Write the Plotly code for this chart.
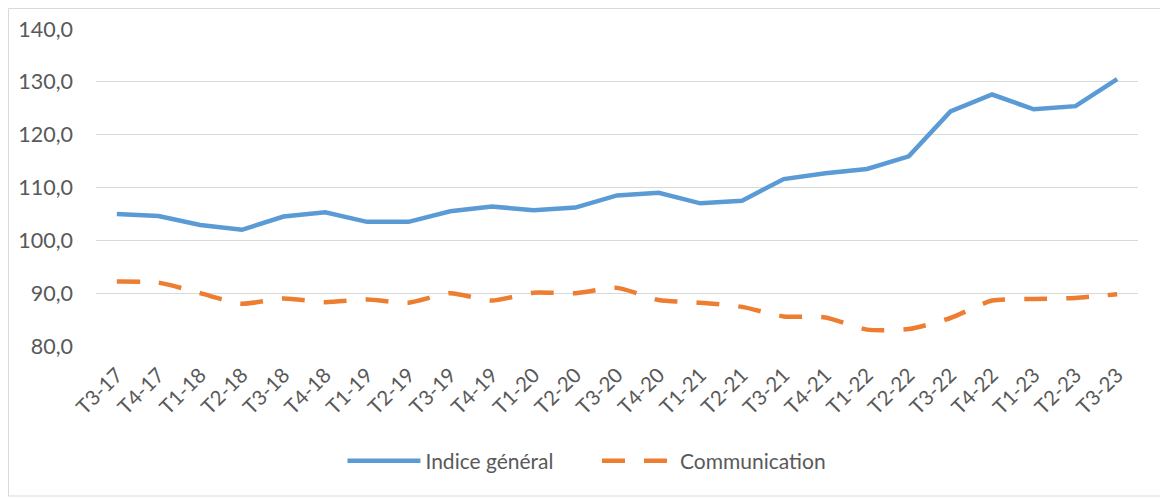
import plotly.graph_objects as go

QUARTERS = [
    "T3-17", "T4-17", "T1-18", "T2-18", "T3-18", "T4-18", "T1-19", "T2-19",
    "T3-19", "T4-19", "T1-20", "T2-20", "T3-20", "T4-20", "T1-21", "T2-21",
    "T3-21", "T4-21", "T1-22", "T2-22", "T3-22", "T4-22", "T1-23", "T2-23",
    "T3-23",
]
INDICE_GENERAL = [
    105.0, 104.6, 102.9, 102.0, 104.5, 105.3, 103.5, 103.5, 105.5, 106.4,
    105.7, 106.2, 108.5, 109.0, 107.0, 107.5, 111.6, 112.7, 113.5, 115.9,
    124.4, 127.6, 124.8, 125.4, 130.5,
]
COMMUNICATION = [
    92.2, 92.0, 90.0, 88.0, 89.0, 88.3, 88.8, 88.2, 90.0, 88.6,
    90.1, 90.0, 91.0, 88.7, 88.2, 87.4, 85.6, 85.4, 83.1, 83.2,
    85.3, 88.6, 88.9, 89.1, 89.8,
]

FONT = "Lato, Open Sans, sans-serif"
GREY = "#595959"
LEGEND_Y = -0.3628

fig = go.Figure()
fig.add_trace(go.Scatter(
    x=QUARTERS, y=INDICE_GENERAL, mode="lines", name="Indice général",
    line=dict(color="#5B9BD5", width=4.5), legend="legend",
))
fig.add_trace(go.Scatter(
    x=QUARTERS, y=COMMUNICATION, mode="lines", name="Communication",
    line=dict(color="#ED7D31", width=4.5, dash="23px,19px", shape="spline",
              smoothing=0.6),
    legend="legend2",
))

# light frame around the whole chart (Excel chart area border)
fig.add_shape(
    type="rect", xref="paper", yref="paper",
    x0=-0.0840, x1=1.0259, y0=-0.4732, y1=1.0647,
    line=dict(color="#D9D9D9", width=1), layer="below",
)

legend_style = dict(
    orientation="h", y=LEGEND_Y, yanchor="middle", xanchor="left",
    font=dict(size=21, color=GREY), itemwidth=73, borderwidth=0,
    bgcolor="rgba(0,0,0,0)",
)

fig.update_layout(
    width=1168, height=498,
    margin=dict(l=88, r=38, t=21, b=160, autoexpand=False),
    paper_bgcolor="white", plot_bgcolor="white",
    separators=", ",
    font=dict(family=FONT, size=18, color=GREY),
    showlegend=True,
    legend=dict(x=0.2365, **legend_style),
    legend2=dict(x=0.4808, **legend_style),
    xaxis=dict(
        type="category", range=[-0.5, 24.5], showgrid=False, zeroline=False,
        showline=False, tickangle=-45, tickfont=dict(size=20.5, color=GREY),
        ticks="", ticklabelstandoff=12,
    ),
    yaxis=dict(
        range=[80, 140], dtick=10, tickformat=".1f", showgrid=True,
        gridcolor="#D9D9D9", gridwidth=1.2, zeroline=False, showline=False,
        tickfont=dict(size=21.5, color=GREY), ticklabelstandoff=22,
    ),
)

fig.write_html("out.html")
